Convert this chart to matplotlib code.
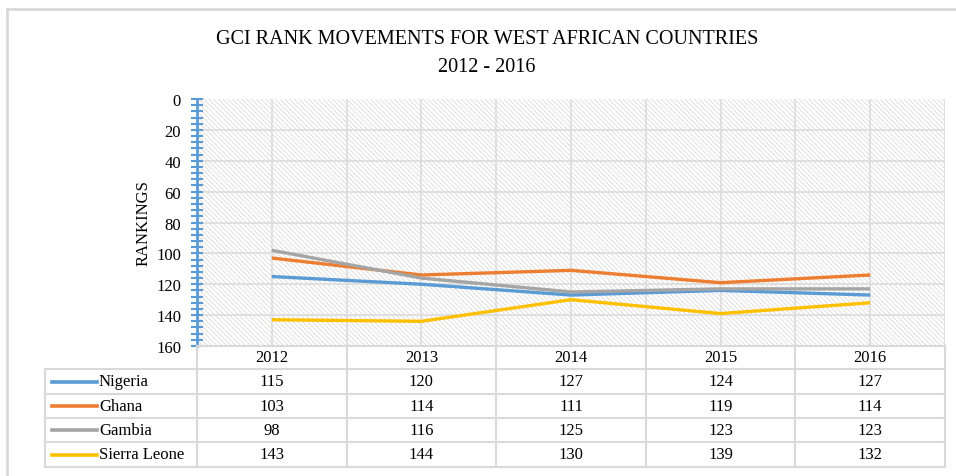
import numpy as np
import matplotlib.pyplot as plt
from matplotlib.lines import Line2D
from matplotlib.patches import Rectangle

years = ['2012', '2013', '2014', '2015', '2016']
countries = ['Nigeria', 'Ghana', 'Gambia', 'Sierra Leone']
nigeria = [115, 120, 127, 124, 127]
ghana = [103, 114, 111, 119, 114]
gambia = [98, 116, 125, 123, 123]
sierra_leone = [143, 144, 130, 139, 132]

series = [nigeria, ghana, gambia, sierra_leone]
couleurs = ['#5B9BD5', '#ED7D31', '#A5A5A5', '#FFC000']

plt.rcParams['font.family'] = ['Liberation Serif', 'DejaVu Serif']
plt.rcParams['hatch.linewidth'] = 0.5

W, H = 956, 477
fig = plt.figure(figsize=(W / 100, H / 100), dpi=100)

# pixel layout of the plot area
x0, x1 = 197, 945
ytop, ybot = 100, 347
ax = fig.add_axes([x0 / W, 1 - ybot / H, (x1 - x0) / W, (ybot - ytop) / H])

# hatched background
ax.add_patch(Rectangle((0, 0), 1, 1, transform=ax.transAxes, facecolor='white',
                       edgecolor='#d4d4d4', hatch='\\' * 7, linewidth=0, zorder=0))

x = np.arange(len(years))
for i in range(len(series)):
    ax.plot(x, series[i], color=couleurs[i], linewidth=2.4, solid_capstyle='butt', zorder=3)

ax.set_xlim(-0.5, len(years) - 0.5)
ax.set_ylim(160, 0)
ax.set_yticks(np.arange(0, 161, 20))
ax.set_yticks(np.arange(0, 161, 4), minor=True)
ax.set_xticks([])
for v in np.arange(20, 160, 20):
    ax.axhline(v, color='#dcdcdc', linewidth=1.2, zorder=1)
for v in np.arange(0, len(years) - 0.4, 0.5):
    ax.axvline(v, color='#dcdcdc', linewidth=1.2, zorder=1)

for s in ['top', 'right', 'bottom']:
    ax.spines[s].set_visible(False)
ax.spines['left'].set_color('#5B9BD5')
ax.spines['left'].set_linewidth(2)
ax.tick_params(axis='y', which='both', direction='inout', color='#5B9BD5', width=1.5,
               labelsize=12, pad=7)
ax.tick_params(axis='y', which='major', length=9)
ax.tick_params(axis='y', which='minor', length=8)
ax.set_ylabel('RANKINGS', fontsize=12, labelpad=3)

# overlay in pixel coordinates for frame, title and data table
ov = fig.add_axes([0, 0, 1, 1], facecolor='none')
ov.set_xlim(0, W)
ov.set_ylim(H, 0)
ov.axis('off')

grid_c = '#d9d9d9'
ov.add_line(Line2D([7, 7], [10, H], color=grid_c, linewidth=2))
ov.add_line(Line2D([7, W], [10, 10], color=grid_c, linewidth=2))

ov.text(487, 40, 'GCI RANK MOVEMENTS FOR WEST AFRICAN COUNTRIES', ha='center', va='center',
        fontsize=14.5)
ov.text(487, 67, '2012 - 2016', ha='center', va='center', fontsize=14.5)

col_w = (x1 - x0) / len(years)
row_edges = [ybot, 370, 395, 419, 443, 468]
tab_left = 45

# vertical lines
ov.add_line(Line2D([tab_left, tab_left], [row_edges[1], row_edges[-1]], color=grid_c, linewidth=1.5))
for j in range(len(years) + 1):
    xx = x0 + j * col_w
    ov.add_line(Line2D([xx, xx], [row_edges[0], row_edges[-1]], color=grid_c, linewidth=1.5))
# horizontal lines
ov.add_line(Line2D([x0, x1], [row_edges[0], row_edges[0]], color=grid_c, linewidth=1.5))
for r in row_edges[1:]:
    ov.add_line(Line2D([tab_left, x1], [r, r], color=grid_c, linewidth=1.5))

for j in range(len(years)):
    cx = x0 + (j + 0.5) * col_w
    ov.text(cx, (row_edges[0] + row_edges[1]) / 2, years[j], ha='center', va='center', fontsize=12)

for i in range(len(countries)):
    cy = (row_edges[i + 1] + row_edges[i + 2]) / 2
    ov.add_line(Line2D([52, 97], [cy, cy], color=couleurs[i], linewidth=2.6))
    ov.text(99, cy, countries[i], ha='left', va='center', fontsize=12)
    for j in range(len(years)):
        cx = x0 + (j + 0.5) * col_w
        ov.text(cx, cy, str(series[i][j]), ha='center', va='center', fontsize=12)

fig.savefig('out.png', dpi=100)
